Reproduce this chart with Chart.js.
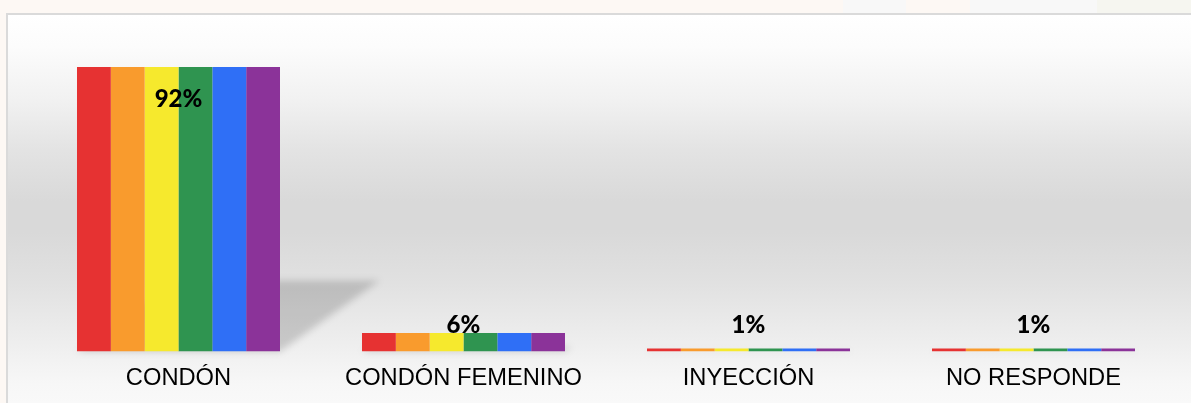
<!DOCTYPE html>
<html>
<head>
<meta charset="utf-8">
<script src="https://cdn.jsdelivr.net/npm/chart.js@4/dist/chart.umd.min.js"></script>
<style>
  html, body { margin: 0; padding: 0; background: #fdf8f4; }
  #wrap { width: 1191px; height: 403px; }
</style>
</head>
<body>
<div id="wrap"><canvas id="c" width="1191" height="403"></canvas></div>
<script>
// Métodos utilizados (porcentaje de respuestas)
const categories = ['CONDÓN', 'CONDÓN FEMENINO', 'INYECCIÓN', 'NO RESPONDE'];
const percentages = [92, 6, 1, 1];
// Franjas de la bandera arcoíris, de izquierda a derecha
const stripeColors = ['#e63232', '#f99b2d', '#f6e92d', '#2f9450', '#2f6ff6', '#8b3399'];

// Fondo: franja superior crema y marco con degradado gris
const backdrop = {
  id: 'backdrop',
  beforeDraw(chart) {
    const { ctx, width, height } = chart;
    ctx.save();
    ctx.fillStyle = '#fdf8f4';
    ctx.fillRect(0, 0, width, height);
    // tramos de color de la franja superior
    ctx.fillStyle = '#f8f8f8';
    ctx.fillRect(843, 0, 63, 13);
    ctx.fillRect(970, 0, 127, 13);
    ctx.fillStyle = '#f6f6f0';
    ctx.fillRect(1097, 0, width - 1097, 13);
    // marco
    ctx.fillStyle = '#dadada';
    ctx.fillRect(6, 13, width - 6, height - 13);
    const g = ctx.createLinearGradient(0, 15, 0, height);
    g.addColorStop(0.00, '#ffffff');
    g.addColorStop(0.08, '#fcfcfc');
    g.addColorStop(0.22, '#f1f1f1');
    g.addColorStop(0.35, '#e3e3e3');
    g.addColorStop(0.48, '#d9d9d9');
    g.addColorStop(0.56, '#d9d9d9');
    g.addColorStop(0.69, '#e1e1e1');
    g.addColorStop(0.82, '#ececec');
    g.addColorStop(0.95, '#f7f7f7');
    g.addColorStop(1.00, '#f9f9f9');
    ctx.fillStyle = g;
    ctx.fillRect(8, 15, width - 8, height - 15);
    ctx.restore();
  }
};

// Sombra en perspectiva detrás de cada barra
const barShadow = {
  id: 'barShadow',
  beforeDatasetsDraw(chart) {
    const first = chart.getDatasetMeta(0).data;
    const last = chart.getDatasetMeta(chart.data.datasets.length - 1).data;
    const { ctx } = chart;
    ctx.save();
    ctx.filter = 'blur(3.5px)';
    ctx.fillStyle = 'rgba(0,0,0,0.16)';
    first.forEach((bar, i) => {
      const left = bar.x - bar.width / 2;
      const right = last[i].x + last[i].width / 2;
      const h = bar.base - bar.y;
      const sh = h * 0.25;
      const skew = h * 0.35;
      ctx.beginPath();
      ctx.moveTo(left, bar.base);
      ctx.lineTo(right, bar.base);
      ctx.lineTo(right + skew, bar.base - sh);
      ctx.lineTo(left + skew, bar.base - sh);
      ctx.closePath();
      ctx.fill();
    });
    ctx.restore();
  }
};

// Etiquetas de porcentaje sobre cada grupo de franjas
const valueLabels = {
  id: 'valueLabels',
  afterDatasetsDraw(chart) {
    const { ctx } = chart;
    const xScale = chart.scales.x;
    const bars = chart.getDatasetMeta(0).data;
    ctx.save();
    ctx.font = '900 24px Lato, "Open Sans", sans-serif';
    ctx.fillStyle = '#000';
    ctx.textAlign = 'center';
    ctx.textBaseline = 'alphabetic';
    bars.forEach((bar, i) => {
      const cx = xScale.getPixelForValue(i);
      const cy = Math.min(bar.y + 31, bar.base - 27);
      ctx.fillText(percentages[i] + '%', cx, cy + 8.6);
    });
    ctx.restore();
  }
};

new Chart(document.getElementById('c'), {
  type: 'bar',
  data: {
    labels: categories,
    datasets: stripeColors.map(color => ({
      data: percentages,
      backgroundColor: color,
      borderWidth: 0,
      categoryPercentage: 0.7123,
      barPercentage: 1
    }))
  },
  options: {
    responsive: false,
    animation: false,
    events: [],
    layout: { padding: { left: 36, right: 15, top: 42.3, bottom: -3 } },
    plugins: { legend: { display: false }, tooltip: { enabled: false } },
    scales: {
      x: {
        grid: { display: false, drawTicks: false },
        border: { display: false },
        ticks: {
          color: '#000',
          padding: 13,
          maxRotation: 0,
          autoSkip: false,
          font: { family: '"Liberation Sans", Arial, sans-serif', size: 23.7 }
        }
      },
      y: { display: false, min: 0, max: 100 }
    }
  },
  plugins: [backdrop, barShadow, valueLabels]
});
</script>
</body>
</html>
